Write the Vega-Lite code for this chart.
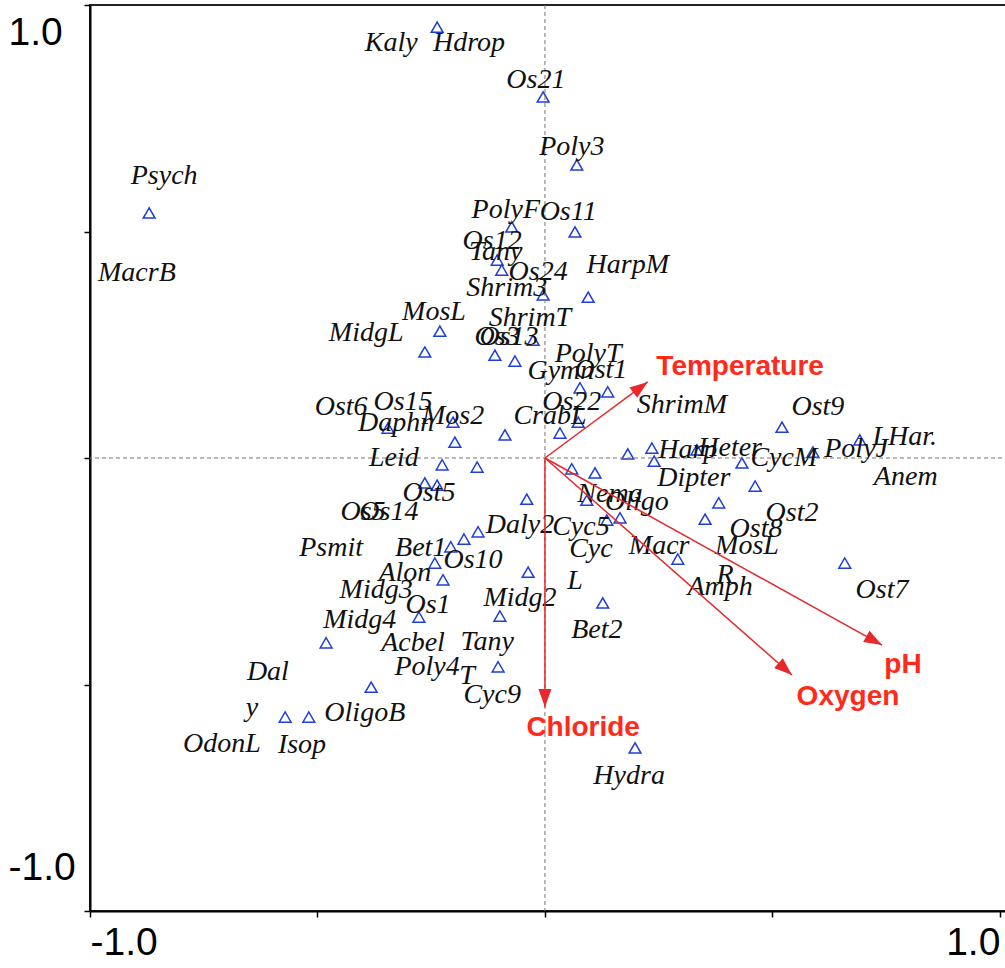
{
  "$schema": "https://vega.github.io/schema/vega-lite/v6.json",
  "width": 919,
  "height": 906,
  "autosize": {"type": "none"},
  "padding": {"left": 90, "top": 5, "right": 0, "bottom": 57},
  "background": "white",
  "config": {"view": {"stroke": "#222", "strokeWidth": 2}},
  "datasets": {
    "species": [
      {"x": -0.870, "y": 0.541}, {"x": -0.237, "y": 0.951}, {"x": -0.004, "y": 0.797},
      {"x": 0.070, "y": 0.647}, {"x": -0.073, "y": 0.510}, {"x": 0.066, "y": 0.499},
      {"x": -0.105, "y": 0.437}, {"x": -0.095, "y": 0.415}, {"x": -0.004, "y": 0.360},
      {"x": 0.095, "y": 0.355}, {"x": -0.231, "y": 0.280}, {"x": -0.264, "y": 0.234},
      {"x": -0.026, "y": 0.260}, {"x": -0.110, "y": 0.227}, {"x": -0.066, "y": 0.214},
      {"x": 0.077, "y": 0.155}, {"x": 0.138, "y": 0.146}, {"x": 0.073, "y": 0.079},
      {"x": 0.033, "y": 0.055}, {"x": -0.088, "y": 0.051}, {"x": 0.182, "y": 0.009},
      {"x": 0.235, "y": 0.022}, {"x": 0.240, "y": -0.007}, {"x": 0.334, "y": 0.018},
      {"x": 0.433, "y": -0.011}, {"x": 0.521, "y": 0.068}, {"x": 0.462, "y": -0.062},
      {"x": 0.589, "y": 0.013}, {"x": 0.692, "y": 0.040}, {"x": 0.382, "y": -0.099},
      {"x": 0.352, "y": -0.135}, {"x": 0.659, "y": -0.232}, {"x": 0.059, "y": -0.024},
      {"x": 0.110, "y": -0.033}, {"x": -0.040, "y": -0.091}, {"x": 0.092, "y": -0.093},
      {"x": 0.136, "y": -0.137}, {"x": 0.165, "y": -0.132}, {"x": 0.292, "y": -0.223},
      {"x": -0.037, "y": -0.252}, {"x": 0.127, "y": -0.320}, {"x": 0.198, "y": -0.640},
      {"x": -0.345, "y": 0.066}, {"x": -0.202, "y": 0.079}, {"x": -0.198, "y": 0.035},
      {"x": -0.226, "y": -0.015}, {"x": -0.149, "y": -0.020}, {"x": -0.264, "y": -0.055},
      {"x": -0.237, "y": -0.060}, {"x": -0.147, "y": -0.163}, {"x": -0.178, "y": -0.179},
      {"x": -0.207, "y": -0.196}, {"x": -0.242, "y": -0.232}, {"x": -0.224, "y": -0.269},
      {"x": -0.277, "y": -0.351}, {"x": -0.099, "y": -0.349}, {"x": -0.481, "y": -0.408},
      {"x": -0.103, "y": -0.461}, {"x": -0.382, "y": -0.506}, {"x": -0.571, "y": -0.572},
      {"x": -0.519, "y": -0.572}
    ],
    "speciesLabels": [
      {"name": "Psych", "x": -0.837, "y": 0.623},
      {"name": "MacrB", "x": -0.897, "y": 0.408},
      {"name": "Kaly", "x": -0.338, "y": 0.916},
      {"name": "Hdrop", "x": -0.167, "y": 0.916},
      {"name": "Os21", "x": -0.020, "y": 0.834},
      {"name": "Poly3", "x": 0.059, "y": 0.687},
      {"name": "PolyF", "x": -0.086, "y": 0.547},
      {"name": "Os11", "x": 0.051, "y": 0.543},
      {"name": "Os12", "x": -0.116, "y": 0.479},
      {"name": "Tany", "x": -0.108, "y": 0.455},
      {"name": "Os24", "x": -0.015, "y": 0.411},
      {"name": "Shrim3", "x": -0.084, "y": 0.375},
      {"name": "HarpM", "x": 0.182, "y": 0.426},
      {"name": "MosL", "x": -0.244, "y": 0.322},
      {"name": "MidgL", "x": -0.393, "y": 0.276},
      {"name": "ShrimT", "x": -0.033, "y": 0.309},
      {"name": "Os3", "x": -0.105, "y": 0.267},
      {"name": "Os13", "x": -0.079, "y": 0.267},
      {"name": "PolyT", "x": 0.095, "y": 0.230},
      {"name": "Gymn", "x": 0.035, "y": 0.192},
      {"name": "Ost1", "x": 0.123, "y": 0.194},
      {"name": "Os22", "x": 0.059, "y": 0.124},
      {"name": "CrabL", "x": 0.011, "y": 0.093},
      {"name": "ShrimM", "x": 0.301, "y": 0.117},
      {"name": "Harp", "x": 0.314, "y": 0.018},
      {"name": "Heter", "x": 0.407, "y": 0.022},
      {"name": "Dipter", "x": 0.327, "y": -0.044},
      {"name": "CycM", "x": 0.525, "y": 0.000},
      {"name": "PolyJ", "x": 0.684, "y": 0.020},
      {"name": "Ost9", "x": 0.600, "y": 0.113},
      {"name": "LHar.", "x": 0.791, "y": 0.046},
      {"name": "Anem", "x": 0.793, "y": -0.042},
      {"name": "Ost2", "x": 0.543, "y": -0.121},
      {"name": "Ost8", "x": 0.464, "y": -0.157},
      {"name": "MosL", "x": 0.444, "y": -0.194},
      {"name": "R", "x": 0.396, "y": -0.258},
      {"name": "Amph", "x": 0.385, "y": -0.285},
      {"name": "Ost7", "x": 0.741, "y": -0.291},
      {"name": "Hydra", "x": 0.185, "y": -0.702},
      {"name": "Bet2", "x": 0.114, "y": -0.380},
      {"name": "L", "x": 0.066, "y": -0.272},
      {"name": "Cyc", "x": 0.101, "y": -0.201},
      {"name": "Macr", "x": 0.251, "y": -0.194},
      {"name": "Cyc5", "x": 0.079, "y": -0.152},
      {"name": "Daly2", "x": -0.055, "y": -0.148},
      {"name": "Nema", "x": 0.143, "y": -0.079},
      {"name": "Oligo", "x": 0.202, "y": -0.097},
      {"name": "Ost6", "x": -0.448, "y": 0.113},
      {"name": "Os15", "x": -0.312, "y": 0.124},
      {"name": "Daphn", "x": -0.327, "y": 0.077},
      {"name": "Mos2", "x": -0.202, "y": 0.093},
      {"name": "Leid", "x": -0.332, "y": 0.000},
      {"name": "Ost5", "x": -0.255, "y": -0.077},
      {"name": "Os5", "x": -0.400, "y": -0.119},
      {"name": "Os14", "x": -0.343, "y": -0.119},
      {"name": "Psmit", "x": -0.470, "y": -0.199},
      {"name": "Bet1", "x": -0.273, "y": -0.199},
      {"name": "Os10", "x": -0.158, "y": -0.225},
      {"name": "Alon", "x": -0.308, "y": -0.254},
      {"name": "Midg3", "x": -0.371, "y": -0.291},
      {"name": "Os1", "x": -0.257, "y": -0.325},
      {"name": "Midg4", "x": -0.407, "y": -0.358},
      {"name": "Acbel", "x": -0.290, "y": -0.408},
      {"name": "Tany", "x": -0.127, "y": -0.406},
      {"name": "Poly4", "x": -0.259, "y": -0.461},
      {"name": "T", "x": -0.171, "y": -0.481},
      {"name": "Cyc9", "x": -0.116, "y": -0.523},
      {"name": "Dal", "x": -0.609, "y": -0.472},
      {"name": "y", "x": -0.644, "y": -0.552},
      {"name": "OligoB", "x": -0.396, "y": -0.563},
      {"name": "OdonL", "x": -0.710, "y": -0.631},
      {"name": "Isop", "x": -0.534, "y": -0.634},
      {"name": "Midg2", "x": -0.055, "y": -0.309}
    ],
    "gradients": [
      {"name": "Temperature", "x": 0.226, "y": 0.168},
      {"name": "Chloride", "x": 0.0, "y": -0.550},
      {"name": "Oxygen", "x": 0.543, "y": -0.479},
      {"name": "pH", "x": 0.741, "y": -0.413}
    ],
    "gradientLabels": [
      {"name": "Temperature", "x": 0.429, "y": 0.201},
      {"name": "Chloride", "x": 0.084, "y": -0.596},
      {"name": "Oxygen", "x": 0.666, "y": -0.528},
      {"name": "pH", "x": 0.787, "y": -0.457}
    ],
    "origin": [{"x": 0, "y": 0}]
  },
  "layer": [
    {
      "data": {"name": "species"},
      "mark": {"type": "point", "shape": "triangle-up", "filled": false, "stroke": "#1e3fd8", "strokeWidth": 1.5, "size": 140, "opacity": 1},
      "encoding": {
        "x": {
          "field": "x", "type": "quantitative",
          "scale": {"domain": [-1, 1.02], "nice": false, "zero": false},
          "axis": {
            "title": null, "grid": false,
            "values": [-1, -0.5, 0, 0.5, 1],
            "labelExpr": "datum.value == 1 ? '1.0' : datum.value == -1 ? '-1.0' : ''",
            "labelAlign": {"expr": "datum.value < 0 ? 'left' : 'right'"},
            "labelBaseline": "top",
            "labelFont": "Liberation Sans", "labelFontSize": 39, "labelColor": "#000",
            "labelPadding": 6, "labelOverlap": false, "labelFlush": false, "labelBound": false,
            "tickSize": 6, "tickColor": "#000", "tickWidth": 1.5,
            "domainColor": "#000", "domainWidth": 2
          }
        },
        "y": {
          "field": "y", "type": "quantitative",
          "scale": {"domain": [-1, 1], "nice": false, "zero": false},
          "axis": {
            "title": null, "grid": false,
            "values": [-1, -0.5, 0, 0.5, 1],
            "labelExpr": "datum.value == 1 ? '1.0' : datum.value == -1 ? '-1.0' : ''",
            "labelAlign": "left",
            "labelBaseline": {"expr": "datum.value > 0 ? 'top' : 'bottom'"},
            "labelOffset": {"expr": "datum.value > 0 ? 8 : -24"},
            "labelFont": "Liberation Sans", "labelFontSize": 39, "labelColor": "#000",
            "labelPadding": 76, "labelOverlap": false, "labelFlush": false, "labelBound": false,
            "tickSize": 6, "tickColor": "#000", "tickWidth": 1.5,
            "domainColor": "#000", "domainWidth": 2
          }
        }
      }
    },
    {
      "data": {"name": "origin"},
      "mark": {"type": "rule", "color": "#777", "strokeWidth": 1, "strokeDash": [4, 3]},
      "encoding": {"x": {"field": "x", "type": "quantitative"}}
    },
    {
      "data": {"name": "origin"},
      "mark": {"type": "rule", "color": "#777", "strokeWidth": 1, "strokeDash": [4, 3]},
      "encoding": {"y": {"field": "y", "type": "quantitative"}}
    },
    {
      "data": {"name": "speciesLabels"},
      "mark": {"type": "text", "font": "Liberation Serif", "fontStyle": "italic", "fontSize": 28, "color": "#111", "align": "center", "baseline": "middle"},
      "encoding": {
        "x": {"field": "x", "type": "quantitative"},
        "y": {"field": "y", "type": "quantitative"},
        "text": {"field": "name"}
      }
    },
    {
      "data": {"name": "gradients"},
      "mark": {"type": "rule", "color": "#e8282a", "strokeWidth": 1.5},
      "encoding": {
        "x": {"field": "x", "type": "quantitative"},
        "y": {"field": "y", "type": "quantitative"},
        "x2": {"datum": 0},
        "y2": {"datum": 0}
      }
    },
    {
      "data": {"name": "gradients"},
      "transform": [{"calculate": "atan2(datum.x, datum.y) * 180 / PI", "as": "heading"}],
      "mark": {"type": "point", "shape": "M0,0L0.36,1L-0.36,1Z", "filled": true, "color": "#e8282a", "size": 1300, "opacity": 1},
      "encoding": {
        "x": {"field": "x", "type": "quantitative"},
        "y": {"field": "y", "type": "quantitative"},
        "angle": {"field": "heading", "type": "quantitative", "scale": null}
      }
    },
    {
      "data": {"name": "gradientLabels"},
      "mark": {"type": "text", "font": "Liberation Sans", "fontWeight": "bold", "fontSize": 28, "color": "#ff2a1a", "align": "center", "baseline": "middle"},
      "encoding": {
        "x": {"field": "x", "type": "quantitative"},
        "y": {"field": "y", "type": "quantitative"},
        "text": {"field": "name"}
      }
    }
  ]
}
